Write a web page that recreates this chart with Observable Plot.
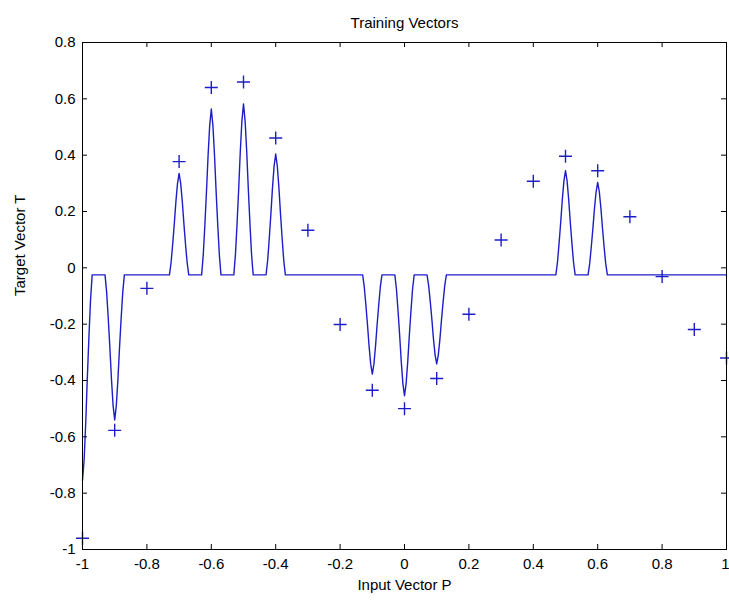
<!DOCTYPE html>
<html>
<head>
<meta charset="utf-8">
<script src="https://cdn.jsdelivr.net/npm/d3@7"></script>
<script src="https://cdn.jsdelivr.net/npm/@observablehq/plot@0.6"></script>
<style>
  html, body { margin: 0; padding: 0; background: #fff; }
  #chart { width: 729px; height: 603px; }
</style>
</head>
<body>
<div id="chart"></div>
<script>
// Training inputs and targets
const P = [-1, -0.9, -0.8, -0.7, -0.6, -0.5, -0.4, -0.3, -0.2, -0.1, 0, 0.1, 0.2, 0.3, 0.4, 0.5, 0.6, 0.7, 0.8, 0.9, 1];
const T = [-0.9602, -0.5770, -0.0729, 0.3771, 0.6405, 0.6600, 0.4609, 0.1336, -0.2013, -0.4344, -0.5000, -0.3930, -0.1647, 0.0988, 0.3072, 0.3960, 0.3449, 0.1816, -0.0312, -0.2189, -0.3201];

// Network response curve (vertices)
const curveX = [
  -1, -0.995, -0.99, -0.985, -0.98, -0.975, -0.97,
  -0.93, -0.925, -0.92, -0.915, -0.91, -0.905, -0.9, -0.895, -0.89, -0.885, -0.88, -0.875, -0.87,
  -0.73, -0.725, -0.72, -0.715, -0.71, -0.705, -0.7, -0.695, -0.69, -0.685, -0.68, -0.675, -0.67,
  -0.63, -0.625, -0.62, -0.615, -0.61, -0.605, -0.6, -0.595, -0.59, -0.585, -0.58, -0.575, -0.57,
  -0.53, -0.525, -0.52, -0.515, -0.51, -0.505, -0.5, -0.495, -0.49, -0.485, -0.48, -0.475, -0.47,
  -0.43, -0.425, -0.42, -0.415, -0.41, -0.405, -0.4, -0.395, -0.39, -0.385, -0.38, -0.375, -0.37,
  -0.13, -0.125, -0.12, -0.115, -0.11, -0.105, -0.1, -0.095, -0.09, -0.085, -0.08, -0.075, -0.07,
  -0.03, -0.025, -0.02, -0.015, -0.01, -0.005, 0, 0.005, 0.01, 0.015, 0.02, 0.025, 0.03,
  0.07, 0.075, 0.08, 0.085, 0.09, 0.095, 0.1, 0.105, 0.11, 0.115, 0.12, 0.125, 0.13,
  0.47, 0.475, 0.48, 0.485, 0.49, 0.495, 0.5, 0.505, 0.51, 0.515, 0.52, 0.525, 0.53,
  0.57, 0.575, 0.58, 0.585, 0.59, 0.595, 0.6, 0.605, 0.61, 0.615, 0.62, 0.625, 0.63,
  1
];
const curveY = [
  -0.755, -0.682, -0.551, -0.39, -0.244, -0.113, -0.025,
  -0.025, -0.087, -0.180, -0.283, -0.396, -0.489, -0.54, -0.489, -0.396, -0.283, -0.180, -0.087, -0.025,
  -0.025, 0.018, 0.083, 0.155, 0.234, 0.299, 0.335, 0.299, 0.234, 0.155, 0.083, 0.018, -0.025,
  -0.025, 0.046, 0.152, 0.27, 0.399, 0.505, 0.564, 0.505, 0.399, 0.27, 0.152, 0.046, -0.025,
  -0.025, 0.048, 0.157, 0.279, 0.412, 0.521, 0.582, 0.521, 0.412, 0.279, 0.157, 0.048, -0.025,
  -0.025, 0.026, 0.104, 0.190, 0.284, 0.361, 0.404, 0.361, 0.284, 0.190, 0.104, 0.026, -0.025,
  -0.025, -0.067, -0.131, -0.201, -0.278, -0.342, -0.377, -0.342, -0.278, -0.201, -0.131, -0.067, -0.025,
  -0.025, -0.076, -0.154, -0.240, -0.334, -0.411, -0.454, -0.411, -0.334, -0.240, -0.154, -0.076, -0.025,
  -0.025, -0.063, -0.120, -0.183, -0.253, -0.309, -0.341, -0.309, -0.253, -0.183, -0.120, -0.063, -0.025,
  -0.025, 0.019, 0.086, 0.16, 0.241, 0.308, 0.345, 0.308, 0.241, 0.16, 0.086, 0.019, -0.025,
  -0.025, 0.014, 0.073, 0.139, 0.211, 0.270, 0.303, 0.270, 0.211, 0.139, 0.073, 0.014, -0.025,
  -0.025
];

// Tick values
const xTicks = [-1, -0.8, -0.6, -0.4, -0.2, 0, 0.2, 0.4, 0.6, 0.8, 1];
const yTicks = [-1, -0.8, -0.6, -0.4, -0.2, 0, 0.2, 0.4, 0.6, 0.8];

const titleText = "Training Vectors";
const xLabel = "Input Vector P";
const yLabel = "Target Vector T";

const points = P.map((p, i) => ({x: p, y: T[i]}));
const curve = curveX.map((x, i) => ({x, y: curveY[i]}));

const W = 729, H = 603;
const mTop = 42, mBottom = 54, mLeft = 82, mRight = 3;
const innerH = H - mTop - mBottom;
const innerW = W - mLeft - mRight;
const blue = "#1e1ec8";
const fmt = d => String(+d.toFixed(1));
const lastX = xTicks[xTicks.length - 1];
const innerXTicks = xTicks.slice(0, -1);

const plusSymbol = {
  draw(ctx, size) {
    const s = Math.sqrt(size / Math.PI);
    ctx.moveTo(-s, 0); ctx.lineTo(s, 0);
    ctx.moveTo(0, -s); ctx.lineTo(0, s);
  }
};

const chart = Plot.plot({
  width: W,
  height: H,
  marginTop: mTop,
  marginBottom: mBottom,
  marginLeft: mLeft,
  marginRight: mRight,
  style: {fontFamily: "'Liberation Sans', Arial, sans-serif", fontSize: "15px", color: "black", background: "white"},
  x: {domain: [-1, 1], axis: null},
  y: {domain: [-1, 0.8], axis: null},
  marks: [
    Plot.line(curve, {x: "x", y: "y", stroke: blue, strokeWidth: 1.4}),
    Plot.dot(points, {x: "x", y: "y", r: 6.5, symbol: plusSymbol, stroke: blue, fill: "none", strokeWidth: 1.4}),
    Plot.frame({stroke: "black", strokeWidth: 1}),
    Plot.tickX(xTicks, {x: d => d, insetTop: innerH - 5, stroke: "black"}),
    Plot.tickX(xTicks, {x: d => d, insetBottom: innerH - 5, stroke: "black"}),
    Plot.tickY(yTicks, {y: d => d, insetRight: innerW - 5, stroke: "black"}),
    Plot.tickY(yTicks, {y: d => d, insetLeft: innerW - 5, stroke: "black"}),
    Plot.axisX(innerXTicks, {anchor: "bottom", tickSize: 0, tickPadding: 9, tickFormat: fmt, label: null, fontSize: 15}),
    Plot.text([lastX], {x: d => d, text: d => fmt(d), frameAnchor: "bottom", lineAnchor: "top", dy: 9, textAnchor: "end", dx: 3, fontSize: 15, fill: "black"}),
    Plot.axisY(yTicks, {anchor: "left", tickSize: 0, tickPadding: 7, tickFormat: fmt, label: null, fontSize: 15}),
    Plot.text([titleText], {text: d => d, frameAnchor: "top", dy: -25, fontSize: 15, fill: "black"}),
    Plot.text([xLabel], {text: d => d, frameAnchor: "bottom", dy: 40, fontSize: 15, fill: "black"}),
    Plot.text([yLabel], {text: d => d, frameAnchor: "left", dx: -62, rotate: -90, fontSize: 15, fill: "black"})
  ]
});
document.getElementById("chart").appendChild(chart);
</script>
</body>
</html>
